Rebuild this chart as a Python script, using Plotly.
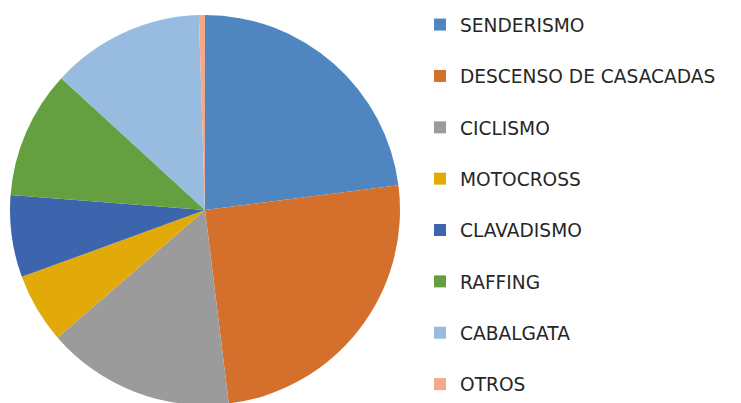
import plotly.graph_objects as go

labels = ["SENDERISMO", "DESCENSO DE CASACADAS", "CICLISMO", "MOTOCROSS",
          "CLAVADISMO", "RAFFING", "CABALGATA", "OTROS"]
values = [23.0, 25.1, 15.6, 5.8, 6.8, 10.6, 12.7, 0.5]
colors = ["#4F86BF", "#D46F2C", "#9B9B9B", "#E1AA08",
          "#3D65AE", "#64A03F", "#98BBE0", "#F2A98B"]

W, H = 741, 405

# legend entries: a blank leading line on all but the first gives the wide row spacing
legend_text = [labels[0]] + [" <br>" + l for l in labels[1:]]

fig = go.Figure(go.Pie(
    labels=legend_text, values=values, sort=False, direction="clockwise",
    rotation=0, textinfo="none",
    customdata=labels,
    hovertemplate="%{customdata}: %{percent}<extra></extra>",
    marker=dict(colors=colors, line=dict(color="white", width=0)),
    domain=dict(x=[10 / W, 400 / W], y=[0, 390 / H]),
))

fig.update_layout(
    width=W, height=H,
    margin=dict(l=0, r=0, t=0, b=0),
    paper_bgcolor="white", plot_bgcolor="white",
    showlegend=True,
    legend=dict(
        x=420 / W, xanchor="left",
        y=1 - 6.0 / H, yanchor="top",
        valign="bottom",
        font=dict(family="DejaVu Sans", size=18.6, color="#262626"),
        itemwidth=30,
    ),
)

fig.write_html(
    "out.html",
    config={"displayModeBar": False},
    post_script="document.body.style.margin='0';document.body.style.overflow='hidden';",
)
